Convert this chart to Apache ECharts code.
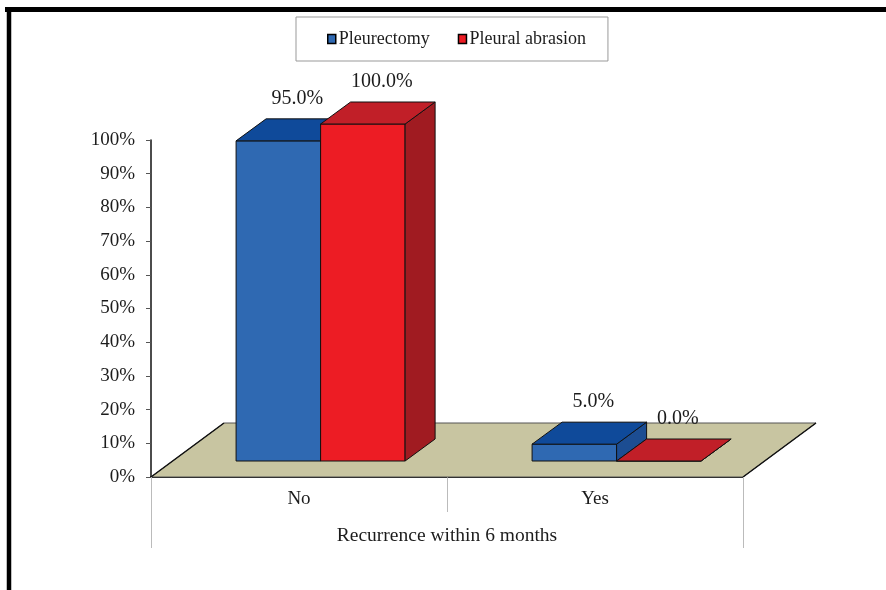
<!DOCTYPE html>
<html>
<head>
<meta charset="utf-8">
<script src="https://cdn.jsdelivr.net/npm/echarts@6/dist/echarts.min.js"></script>
<style>
  html, body { margin: 0; padding: 0; background: #fff; }
  #chart { width: 886px; height: 590px; }
</style>
</head>
<body>
<div id="chart"></div>
<script>
// Recurrence within 6 months, by procedure (percent of patients)
const categories = ['No', 'Yes'];
const pleurectomy = [95.0, 5.0];
const pleuralAbrasion = [100.0, 0.0];
const seriesNames = ['Pleurectomy', 'Pleural abrasion'];
const axisTitle = 'Recurrence within 6 months';
const yMin = 0, yMax = 100, yStep = 10;

// 3D look: floor depth, bar front-plane offset and bar depth (pixels)
const FLOOR_DX = 73, FLOOR_DY = 54;
const FRONT_DX = 21.6, FRONT_DY = 16;
const BAR_DX = 30, BAR_DY = 22;
const BAR_FRAC = 0.2855;
const FONT = '"Liberation Serif", "Times New Roman", serif';
const TEXT = '#1c1c1c';

const blue = { front: '#2f69b2', top: '#0f4a9a', side: '#1c4d92' };
const red = { front: '#ed1c24', top: '#c11f28', side: '#a01b21' };

function barRenderer(side, pal) {
  return function (params, api) {
    const cat = api.value(0), v = api.value(1);
    const base = api.coord([cat, 0]);
    const topPt = api.coord([cat, v]);
    const band = api.size([1, 0])[0];
    const w = band * BAR_FRAC;
    const x0 = base[0] + FRONT_DX + (side < 0 ? -w : 0);
    const x1 = x0 + w;
    const yb = base[1] - FRONT_DY;
    const yt = topPt[1] - FRONT_DY;
    const stroke = { stroke: '#111', lineWidth: 1, lineJoin: 'round' };
    return {
      type: 'group',
      children: [
        { type: 'polygon', shape: { points: [[x0, yb], [x1, yb], [x1, yt], [x0, yt]] },
          style: Object.assign({ fill: pal.front }, stroke) },
        { type: 'polygon', shape: { points: [[x1, yb], [x1 + BAR_DX, yb - BAR_DY], [x1 + BAR_DX, yt - BAR_DY], [x1, yt]] },
          style: Object.assign({ fill: pal.side }, stroke) },
        { type: 'polygon', shape: { points: [[x0, yt], [x1, yt], [x1 + BAR_DX, yt - BAR_DY], [x0 + BAR_DX, yt - BAR_DY]] },
          style: Object.assign({ fill: pal.top }, stroke) },
        { type: 'text', style: {
            x: (x0 + x1) / 2 + BAR_DX / 2 + 4, y: yt - BAR_DY - 20,
            text: v.toFixed(1) + '%', fill: TEXT, font: '20px ' + FONT,
            align: 'center', verticalAlign: 'middle' } }
      ]
    };
  };
}

// Floor plane plus the long outer divider lines under the category axis
function floorRenderer(params, api) {
  const cs = params.coordSys;
  const xl = cs.x, xr = cs.x + cs.width, yb = cs.y + cs.height;
  return {
    type: 'group',
    children: [
      { type: 'polygon', shape: { points: [[xl, yb], [xr, yb], [xr + FLOOR_DX, yb - FLOOR_DY], [xl + FLOOR_DX, yb - FLOOR_DY]] },
        style: { fill: '#c8c5a1', stroke: '#555', lineWidth: 1 } },
      { type: 'line', shape: { x1: xl, y1: yb, x2: xl + FLOOR_DX, y2: yb - FLOOR_DY },
        style: { stroke: '#111', lineWidth: 1.5 } },
      { type: 'line', shape: { x1: xr, y1: yb, x2: xr + FLOOR_DX, y2: yb - FLOOR_DY },
        style: { stroke: '#111', lineWidth: 1.5 } },
      { type: 'line', shape: { x1: xl + 0.5, y1: yb, x2: xl + 0.5, y2: yb + 71 },
        style: { stroke: '#bbb', lineWidth: 1 } },
      { type: 'line', shape: { x1: xr + 0.5, y1: yb, x2: xr + 0.5, y2: yb + 71 },
        style: { stroke: '#bbb', lineWidth: 1 } }
    ]
  };
}

const chart = echarts.init(document.getElementById('chart'));
chart.setOption({
  animation: false,
  backgroundColor: '#fff',
  graphic: [
    { type: 'line', shape: { x1: 5, y1: 9.5, x2: 886, y2: 9.5 }, style: { stroke: '#000', lineWidth: 5 }, z: 100 },
    { type: 'line', shape: { x1: 9, y1: 7, x2: 9, y2: 590 }, style: { stroke: '#000', lineWidth: 4.5 }, z: 100 }
  ],
  legend: {
    data: [
      { name: seriesNames[0], itemStyle: { color: blue.front, borderColor: '#000', borderWidth: 1.5 } },
      { name: seriesNames[1], itemStyle: { color: red.front, borderColor: '#000', borderWidth: 1.5 } }
    ],
    left: 296, top: 17,
    padding: [13, 22, 13, 31],
    itemWidth: 8, itemHeight: 9, itemGap: 28,
    icon: 'rect',
    borderColor: '#999', borderWidth: 1, backgroundColor: '#fff',
    textStyle: { fontFamily: FONT, fontSize: 18, color: TEXT, padding: [0, 0, 0, -2] }
  },
  grid: { left: 151, right: 143, top: 140, bottom: 113, containLabel: false },
  xAxis: {
    type: 'category',
    data: categories,
    name: axisTitle,
    nameLocation: 'middle',
    nameGap: 49,
    nameTextStyle: { fontFamily: FONT, fontSize: 19.5, color: TEXT },
    axisLine: { lineStyle: { color: '#111', width: 2 } },
    axisTick: { show: true, length: 35, lineStyle: { color: '#bbb', width: 1 } },
    axisLabel: { fontFamily: FONT, fontSize: 19, color: TEXT, margin: 13 },
    splitLine: { show: false }
  },
  yAxis: {
    type: 'value',
    min: yMin, max: yMax, interval: yStep,
    axisLine: { show: true, lineStyle: { color: '#111', width: 1.5 } },
    axisTick: { show: true, length: 5, lineStyle: { color: '#555' } },
    axisLabel: { fontFamily: FONT, fontSize: 19, color: TEXT, margin: 16, formatter: '{value}%' },
    splitLine: { show: false }
  },
  series: [
    { type: 'custom', name: '_floor', renderItem: floorRenderer, data: [[0, 0]], silent: true, z: 1 },
    { type: 'custom', name: seriesNames[0], renderItem: barRenderer(-1, blue),
      itemStyle: { color: blue.front },
      encode: { x: 0, y: 1 },
      data: pleurectomy.map((v, i) => [i, v]), z: 2 },
    { type: 'custom', name: seriesNames[1], renderItem: barRenderer(1, red),
      itemStyle: { color: red.front },
      encode: { x: 0, y: 1 },
      data: pleuralAbrasion.map((v, i) => [i, v]), z: 3 }
  ]
});
</script>
</body>
</html>
